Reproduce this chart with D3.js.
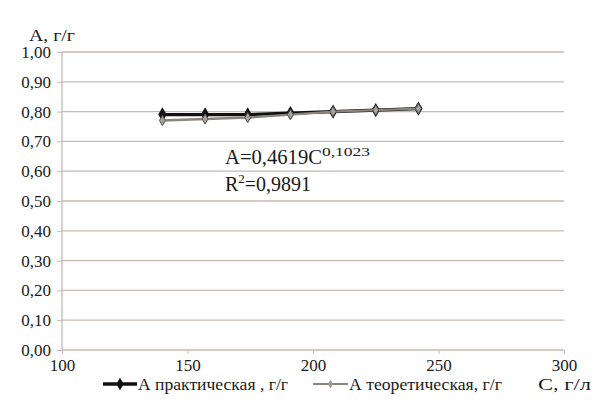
<!DOCTYPE html>
<html><head><meta charset="utf-8">
<script src="https://cdn.jsdelivr.net/npm/d3@7"></script>
<style>body{margin:0;background:#fff}svg{display:block}</style>
</head><body>
<svg id="c" width="597" height="402"></svg>
<script>
const concentrations = [140, 157, 174, 191, 208, 225, 242];
const practical = [0.79, 0.79, 0.79, 0.795, 0.80, 0.805, 0.81];
const theoretical = [0.77, 0.775, 0.78, 0.79, 0.80, 0.805, 0.81];
const xTicks = [100, 150, 200, 250, 300];
const yTicks = [0,0.1,0.2,0.3,0.4,0.5,0.6,0.7,0.8,0.9,1.0];
const seriesNames = ["А практическая , г/г", "А теоретическая, г/г"];

const FONT = "Liberation Serif, Times New Roman, DejaVu Serif, serif";
const svg = d3.select("#c");
const L = 62, R = 564, T = 52, B = 350;
const x = d3.scaleLinear().domain([100, 300]).range([L, R]);
const y = d3.scaleLinear().domain([0, 1]).range([B, T]);
const fmt = v => d3.format(".2f")(v).replace(".", ",");
const grid = "#c9b9b5";
const ink = "#1a1a1a";

svg.append("g").selectAll("line").data(yTicks).join("line")
  .attr("x1", L).attr("x2", R).attr("y1", d => y(d)).attr("y2", d => y(d))
  .attr("stroke", grid).attr("stroke-width", 1.3);
svg.append("line").attr("x1", L).attr("x2", L).attr("y1", T).attr("y2", B)
  .attr("stroke", grid).attr("stroke-width", 1.3);

const yAxis = d3.axisLeft(y).tickValues(yTicks).tickFormat(fmt).tickSize(5).tickPadding(6);
const gy = svg.append("g").attr("transform", `translate(${L},0)`).call(yAxis)
  .attr("font-family", FONT).attr("font-size", 17);
gy.select(".domain").remove();
gy.selectAll(".tick line").attr("stroke", grid);
gy.selectAll("text").attr("fill", ink);

const xAxis = d3.axisBottom(x).tickValues(xTicks).tickFormat(d3.format("d")).tickSize(4).tickPadding(5);
const gx = svg.append("g").attr("transform", `translate(0,${B})`).call(xAxis)
  .attr("font-family", FONT).attr("font-size", 17);
gx.select(".domain").remove();
gx.selectAll(".tick line").attr("stroke", grid);
gx.selectAll("text").attr("fill", ink);

const line = d3.line().x(d => x(d[0])).y(d => y(d[1]));
const pData = concentrations.map((c, i) => [c, practical[i]]);
const tData = concentrations.map((c, i) => [c, theoretical[i]]);
const diamond = d3.symbol().type(d3.symbolDiamond);

svg.append("path").datum(pData).attr("d", line).attr("fill", "none").attr("stroke", "#111").attr("stroke-width", 3.2);
svg.append("g").selectAll("path").data(pData).join("path")
  .attr("transform", d => `translate(${x(d[0])},${y(d[1])})`)
  .attr("d", diamond.size(60)()).attr("fill", "#111");
svg.append("path").datum(tData).attr("d", line).attr("fill", "none").attr("stroke", "#8a8480").attr("stroke-width", 2.4);
svg.append("g").selectAll("path").data(tData).join("path")
  .attr("transform", d => `translate(${x(d[0])},${y(d[1])})`)
  .attr("d", diamond.size(30)()).attr("fill", "#a8a29e").attr("stroke", "#555").attr("stroke-width", 1);

const txt = svg.append("g").attr("font-family", FONT).attr("fill", ink);
txt.append("text").attr("x", 29).attr("y", 41).attr("font-size", 17)
  .attr("textLength", 46).attr("lengthAdjust", "spacingAndGlyphs").text("А, г/г");
txt.append("text").attr("x", 538).attr("y", 390).attr("font-size", 17)
  .attr("textLength", 53).attr("lengthAdjust", "spacingAndGlyphs").text("С, г/л");

const eq = txt.append("text").attr("x", 225).attr("y", 164).attr("font-size", 20);
eq.append("tspan").attr("textLength", 97).attr("lengthAdjust", "spacingAndGlyphs").text("А=0,4619С");
eq.append("tspan").attr("dy", -8).attr("font-size", 13).attr("textLength", 48).attr("lengthAdjust", "spacingAndGlyphs").text("0,1023");
const r2 = txt.append("text").attr("x", 225).attr("y", 191).attr("font-size", 20);
r2.append("tspan").text("R");
r2.append("tspan").attr("dy", -8).attr("font-size", 13).text("2");
r2.append("tspan").attr("dy", 8).text("=0,9891");

const items = [{x0: 103, x1: 137, tw: 150, col: "#111", w: 3.6, ms: 45, fill: "#111"},
               {x0: 313, x1: 348, tw: 153, col: "#8a8480", w: 2, ms: 22, fill: "#a09a96"}];
items.forEach((it, i) => {
  txt.append("line").attr("x1", it.x0).attr("x2", it.x1).attr("y1", 384).attr("y2", 384)
    .attr("stroke", it.col).attr("stroke-width", it.w);
  txt.append("path").attr("transform", `translate(${(it.x0 + it.x1) / 2},384)`).attr("d", diamond.size(it.ms)()).attr("fill", it.fill);
  txt.append("text").attr("x", it.x1 + 1).attr("y", 390).attr("font-size", 17)
    .attr("textLength", it.tw).attr("lengthAdjust", "spacingAndGlyphs").text(seriesNames[i]);
});
</script>
</body></html>
